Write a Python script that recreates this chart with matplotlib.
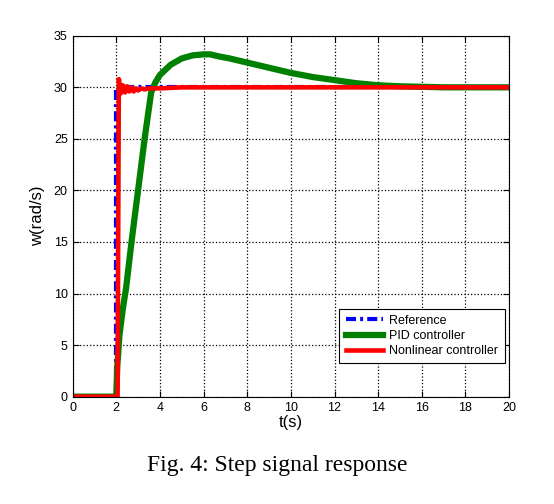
import matplotlib.pyplot as plt

# Step response data
t_ref = [0, 2, 2, 20]
w_ref = [0, 0, 30, 30]

t_pid = [0, 2.0, 2.05, 2.15, 2.3, 2.45, 2.7, 3.0, 3.3, 3.6, 3.8, 4.0, 4.5,
         5.0, 5.5, 6.0, 6.3, 6.7, 7.2, 8.0, 9.0, 10.0, 11.0, 12.0, 13.0,
         14.0, 15.0, 16.0, 17.0, 18.0, 19.0, 20.0]
w_pid = [0, 0, 3.0, 6.0, 8.5, 10.5, 15.0, 20.0, 25.0, 29.5, 30.5, 31.2, 32.2,
         32.8, 33.1, 33.2, 33.2, 33.0, 32.8, 32.4, 31.9, 31.4, 31.0, 30.7, 30.4,
         30.2, 30.1, 30.05, 30.0, 30.0, 30.0, 30.0]

t_nl = [0, 2.06, 2.12, 2.2, 2.3, 2.4, 2.5, 2.6, 2.7, 2.8, 2.9, 3.0,
        3.15, 3.3, 3.5, 4.0, 5.0, 20.0]
w_nl = [0, 0, 30.8, 29.4, 30.2, 29.5, 30.1, 29.6, 30.0, 29.6, 29.9, 29.7,
        29.9, 29.8, 29.9, 29.9, 30.0, 30.0]

fig = plt.figure(figsize=(5.54, 5.04), dpi=100)
ax = fig.add_axes([0.131, 0.213, 0.788, 0.716])

plt.rcParams['font.family'] = ['Liberation Sans', 'DejaVu Sans']

ax.plot(t_ref, w_ref, color='#0000ff', linestyle=(0, (2.4, 1.0, 0.7, 1.0)),
        linewidth=3, label='Reference')
ax.plot(t_pid, w_pid, color='#008000', linewidth=4.5, label='PID controller')
ax.plot(t_nl, w_nl, color='#ff0000', linewidth=3.3,
        label='Nonlinear controller')

ax.set_xlim(0, 20)
ax.set_ylim(0, 35)
ax.set_xticks(range(0, 21, 2))
ax.set_yticks(range(0, 36, 5))
ax.tick_params(direction='in', labelsize=9, length=4, top=True, right=True)
for lab in ax.get_xticklabels() + ax.get_yticklabels():
    lab.set_family(['Liberation Sans', 'DejaVu Sans'])
ax.grid(True, color='black', linestyle=':', linewidth=0.9)

ax.set_xlabel('t(s)', fontsize=12, family='Liberation Sans', labelpad=1)
ax.set_ylabel('w(rad/s)', fontsize=12, family='Liberation Sans', labelpad=6)

leg = ax.legend(loc='lower right', bbox_to_anchor=(1.004, 0.075),
                fancybox=False, framealpha=1, edgecolor='black',
                handlelength=3.0, handletextpad=0.5, borderpad=0.5,
                labelspacing=0.25,
                prop={'family': 'Liberation Sans', 'size': 9})
leg.get_frame().set_linewidth(0.8)

fig.text(0.5, 0.065, 'Fig. 4: Step signal response', ha='center',
         fontsize=17, family='Liberation Serif')

fig.savefig('out.png', dpi=100)
